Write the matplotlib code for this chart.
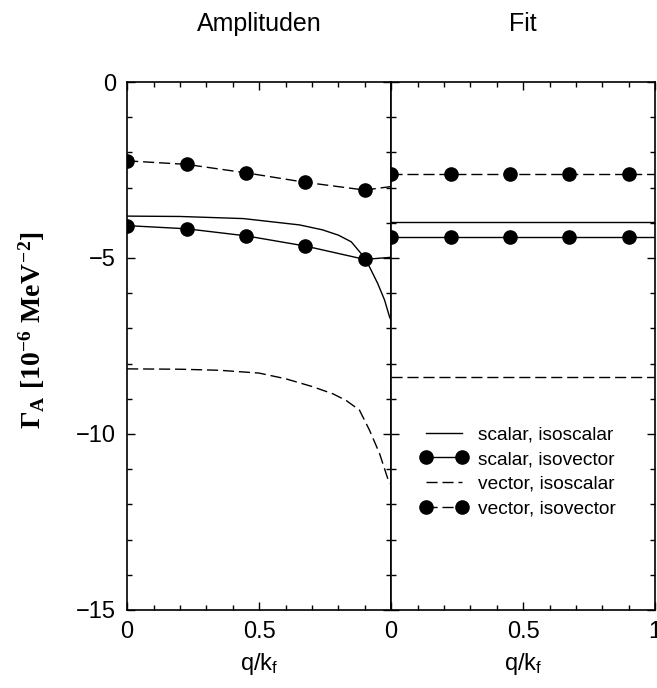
import numpy as np
import matplotlib
matplotlib.use('Agg')
import matplotlib.pyplot as plt
from matplotlib.ticker import MultipleLocator

plt.rcParams['font.family'] = ['Liberation Sans', 'DejaVu Sans']
plt.rcParams['mathtext.fontset'] = 'custom'
plt.rcParams['mathtext.rm'] = 'Liberation Serif:bold'
plt.rcParams['mathtext.it'] = 'Liberation Serif:bold'
plt.rcParams['mathtext.bf'] = 'Liberation Serif:bold'
plt.rcParams['mathtext.sf'] = 'Liberation Sans'

# q/k_f grid of the computed points
q_pts = [0.0, 0.225, 0.45, 0.675, 0.9]

# Amplituden (left panel)
q_iv = [0.0, 0.225, 0.45, 0.675, 0.9, 1.0]
vec_iv_amp = [-2.24, -2.34, -2.58, -2.85, -3.07, -2.97]
sca_iv_amp = [-4.08, -4.17, -4.37, -4.66, -5.04, -4.98]

q_sca_is = [0.0, 0.2, 0.44, 0.653, 0.74, 0.8, 0.849, 0.886, 0.918, 0.949, 0.975, 0.994, 1.0]
sca_is_amp = [-3.81, -3.82, -3.88, -4.06, -4.20, -4.35, -4.54, -4.87, -5.25, -5.72, -6.19,
              -6.67, -6.78]

q_vec_is = [0.0, 0.2, 0.35, 0.5, 0.6, 0.7, 0.78, 0.83, 0.88, 0.918, 0.956, 0.987, 1.0]
vec_is_amp = [-8.15, -8.16, -8.19, -8.27, -8.43, -8.65, -8.86, -9.05, -9.32, -9.89, -10.55,
              -11.26, -11.45]

# Fit (right panel), constant values
sca_is_fit = -3.97
sca_iv_fit = -4.40
vec_is_fit = -8.37
vec_iv_fit = -2.60

labels = ['scalar, isoscalar', 'scalar, isovector', 'vector, isoscalar', 'vector, isovector']

fig = plt.figure(figsize=(6.57, 6.88), dpi=100)
ax1 = fig.add_axes([0.1935, 0.1134, 0.4018, 0.7674])
ax2 = fig.add_axes([0.5953, 0.1134, 0.4018, 0.7674], sharey=ax1)

dash = (8, 3.5)
ms = 9.5
lw = 1.0

ax1.plot(q_sca_is, sca_is_amp, color='k', lw=lw)
ax1.plot(q_iv, sca_iv_amp, color='k', lw=lw, marker='o', ms=ms, markevery=[0, 1, 2, 3, 4])
ax1.plot(q_vec_is, vec_is_amp, color='k', lw=lw, dashes=dash)
ax1.plot(q_iv, vec_iv_amp, color='k', lw=lw, dashes=dash, marker='o', ms=ms,
         markevery=[0, 1, 2, 3, 4])

q_fit = [0.0, 1.0]
h1, = ax2.plot(q_fit, [sca_is_fit] * 2, color='k', lw=lw)
ax2.plot(q_pts + [1.0], [sca_iv_fit] * 6, color='k', lw=lw, marker='o', ms=ms,
         markevery=[0, 1, 2, 3, 4])
h3, = ax2.plot(q_fit, [vec_is_fit] * 2, color='k', lw=lw, dashes=dash)
ax2.plot(q_pts + [1.0], [vec_iv_fit] * 6, color='k', lw=lw, dashes=dash, marker='o',
         ms=ms, markevery=[0, 1, 2, 3, 4])

h2, = ax2.plot([], [], color='k', lw=lw, marker='o', ms=ms)
h4, = ax2.plot([], [], color='k', lw=lw, dashes=dash, marker='o', ms=ms)
ax2.legend([h1, h2, h3, h4], labels, loc='center', bbox_to_anchor=(0.48, 0.262),
           frameon=False, fontsize=13.8, numpoints=2, handlelength=2.5,
           handletextpad=0.5, labelspacing=0.38)

for ax in (ax1, ax2):
    ax.set_xlim(0, 1)
    ax.set_ylim(-15, 0)
    ax.xaxis.set_major_locator(MultipleLocator(0.5))
    ax.xaxis.set_minor_locator(MultipleLocator(0.1))
    ax.yaxis.set_major_locator(MultipleLocator(5))
    ax.yaxis.set_minor_locator(MultipleLocator(1))
    ax.tick_params(which='both', direction='in', top=True, right=True, labelsize=17,
                   width=1.0)
    ax.tick_params(which='major', length=6, pad=8)
    ax.tick_params(which='minor', length=3.5)
    for s in ax.spines.values():
        s.set_linewidth(1.2)
    ax.set_xlabel(r'q/k$_\mathsf{f}$', fontsize=17, labelpad=6)

ax1.set_xticks([0, 0.5, 1.0])
ax1.set_xticklabels(['0', '0.5', ''])
ax2.set_xticks([0, 0.5, 1.0])
ax2.set_xticklabels(['0', '0.5', '1'])
ax1.set_yticks([0, -5, -10, -15])
ax1.set_yticklabels(['0', '\u22125', '\u221210', '\u221215'])
ax2.tick_params(labelleft=False)

ax1.set_ylabel(r'$\Gamma_A\ [10^{-6}\ MeV^{-2}]$', fontsize=20)
ax1.yaxis.set_label_coords(-0.305, 0.53)

ax1.set_title('Amplituden', fontsize=18, pad=37)
ax2.set_title('Fit', fontsize=18, pad=37)

fig.savefig('out.png', dpi=100)
